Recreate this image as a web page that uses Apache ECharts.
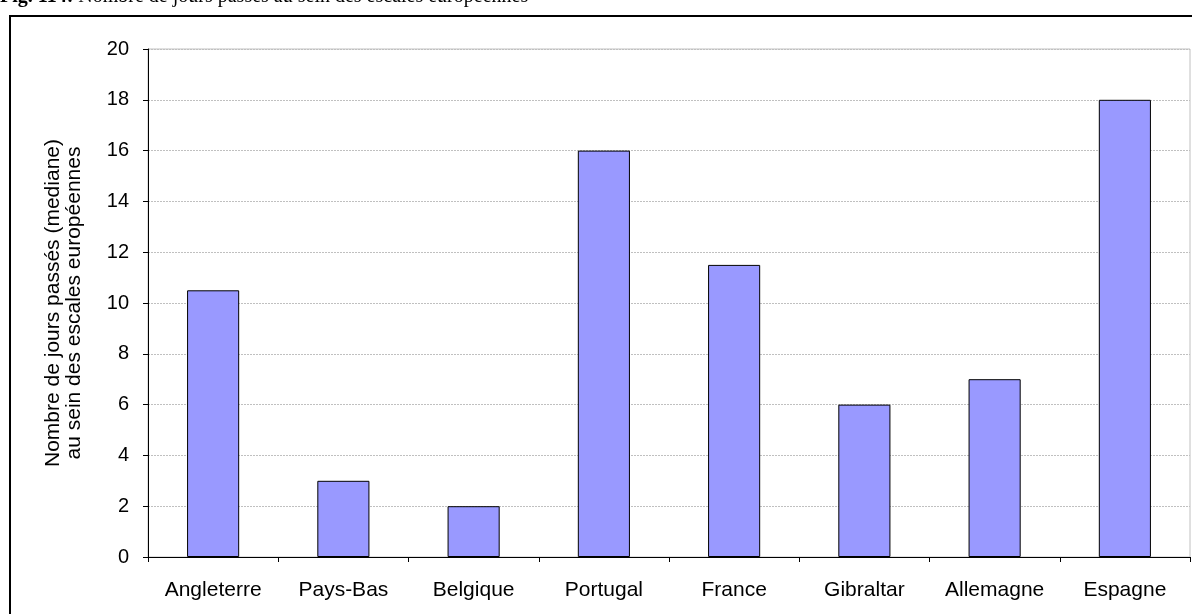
<!DOCTYPE html>
<html>
<head>
<meta charset="utf-8">
<script src="https://cdn.jsdelivr.net/npm/echarts@6/dist/echarts.min.js"></script>
<style>html,body{margin:0;padding:0;background:#fff;}#c{width:1192px;height:614px;}</style>
</head>
<body>
<div id="c"></div>
<script>
const categories = ['Angleterre','Pays-Bas','Belgique','Portugal','France','Gibraltar','Allemagne','Espagne'];
const values = [10.5, 3, 2, 16, 11.5, 6, 7, 18];
const yTicks = {min: 0, max: 20, interval: 2};
const titleBold = 'Fig. 114:';
const titleRest = ' Nombre de jours passés au sein des escales européennes';
const yName = 'Nombre de jours passés (mediane)\nau sein des escales européennes';

const chart = echarts.init(document.getElementById('c'));
chart.setOption({
  animation: false,
  backgroundColor: '#fff',
  graphic: [
    {type: 'rect', shape: {x: 10, y: 16, width: 1200, height: 700}, style: {fill: 'none', stroke: '#000', lineWidth: 2}, z: 0},
    {type: 'text', left: 0, top: -13, style: {
      text: '{b|' + titleBold + '}{n|' + titleRest + '}',
      rich: {
        b: {fontFamily: 'Liberation Serif', fontWeight: 'bold', fontSize: 20, fill: '#000'},
        n: {fontFamily: 'Liberation Serif', fontSize: 20, fill: '#000'}
      }
    }}
  ],
  grid: {left: 148, top: 49, right: 2, bottom: 57, show: true, borderColor: '#c0c0c0', borderWidth: 1, backgroundColor: 'transparent'},
  xAxis: {
    type: 'category', data: categories,
    axisLine: {lineStyle: {color: '#000', width: 1}},
    axisTick: {show: true, length: 5, lineStyle: {color: '#000'}},
    axisLabel: {color: '#000', fontFamily: 'Liberation Sans', fontSize: 21, margin: 23}
  },
  yAxis: {
    type: 'value', min: yTicks.min, max: yTicks.max, interval: yTicks.interval,
    name: yName, nameLocation: 'middle', nameGap: 63, nameRotate: 90,
    nameTextStyle: {color: '#000', fontFamily: 'Liberation Sans', fontSize: 21, lineHeight: 21},
    axisLine: {show: true, lineStyle: {color: '#000', width: 1}},
    axisTick: {show: true, length: 5, lineStyle: {color: '#000'}},
    axisLabel: {color: '#000', fontFamily: 'Liberation Sans', fontSize: 20, margin: 19},
    splitLine: {show: true, lineStyle: {color: '#c0c0c0', type: [2, 1], width: 1}}
  },
  series: [{
    type: 'bar', data: values, barWidth: '40%',
    itemStyle: {color: '#9999FF', borderColor: '#000', borderWidth: 1}
  }]
});
</script>
</body>
</html>
